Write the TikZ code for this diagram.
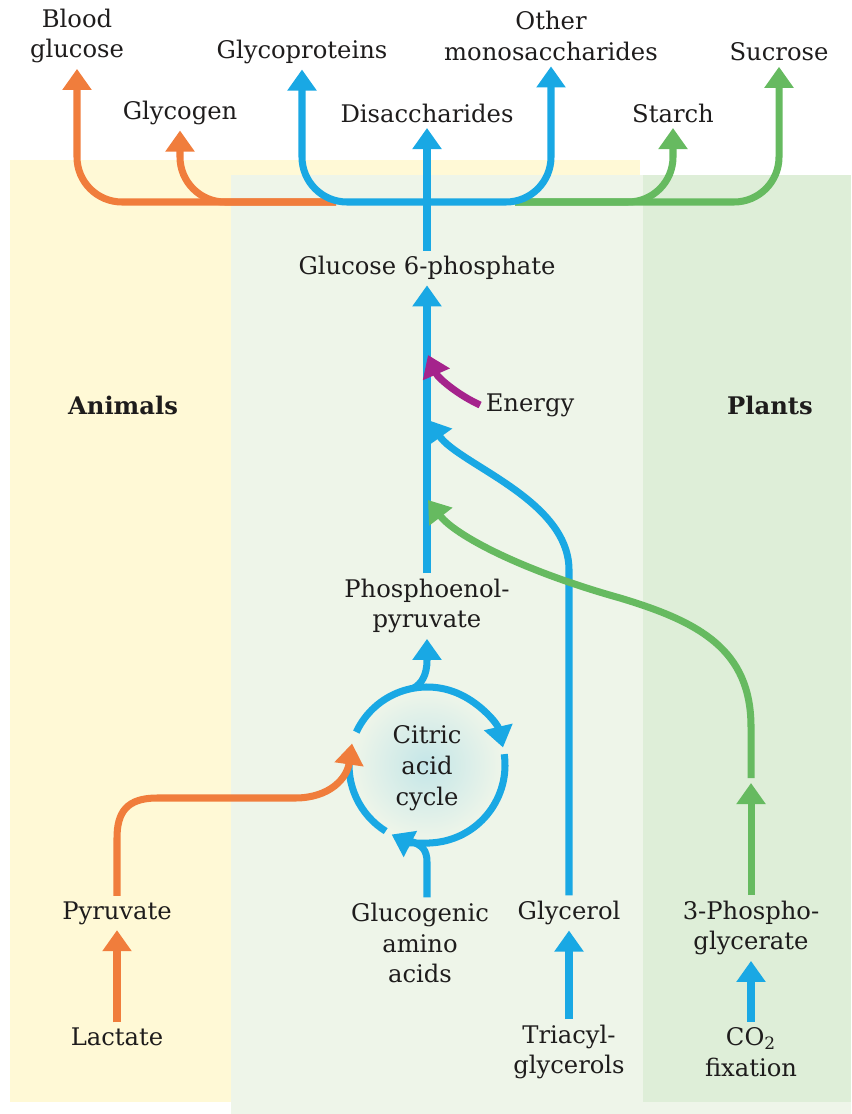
\documentclass[tikz,border=0pt]{standalone}
\usepackage{fontspec}
\setmainfont{DejaVu Serif}
\usepackage{tikz}
\usetikzlibrary{arrows.meta}
\definecolor{glcorange}{RGB}{240,125,60}
\definecolor{glcblue}{RGB}{25,168,228}
\definecolor{glcgreen}{RGB}{102,186,96}
\definecolor{glcmagenta}{RGB}{165,35,140}
\definecolor{animalbg}{RGB}{255,249,214}
\definecolor{sharedbg}{RGB}{238,245,233}
\definecolor{plantbg}{RGB}{222,238,216}
\definecolor{glctext}{RGB}{30,28,28}

\begin{document}
\begin{tikzpicture}[x=0.02cm, y=0.02cm,
    >={Triangle[width=16pt,length=12pt]},
    every node/.style={font=\fontsize{13.8}{17.5}\selectfont, text=glctext, align=center, inner sep=3pt},
    flow/.style={line width=4pt, ->},
    ring/.style={line width=4pt, glcblue}]
  \useasboundingbox (0,0) rectangle (851,-1114);

  \fill[animalbg] (10,-160) rectangle (640,-1102);
  \fill[sharedbg] (231,-175) rectangle (851,-1114);
  \fill[plantbg] (643,-175) rectangle (851,-1102);

  \coordinate (cyc) at (427,-765);
  \shade[inner color=glcblue!20!sharedbg, outer color=sharedbg] (cyc) circle[radius=1.5cm];

  \node (bg) at (77,-36) {Blood\\glucose};
  \node (glyc) at (180,-113) {Glycogen};
  \node (gp) at (302,-52) {Glycoproteins};
  \node (dis) at (427,-113) {Disaccharides};
  \node (om) at (551,-36) {Other\\monosaccharides};
  \node (starch) at (673,-113) {Starch};
  \node (suc) at (779,-52) {Sucrose};
  \node (g6p) at (427,-268) {Glucose 6-phosphate};
  \node (animals) at (123,-405) {\bfseries Animals};
  \node (energy) at (530,-405) {Energy};
  \node (plants) at (770,-405) {\bfseries Plants};
  \node (pep) at (427,-606) {Phosphoenol-\\pyruvate};
  \node (tca) at (427,-768) {Citric\\acid\\cycle};
  \node (pyr) at (117,-913) {Pyruvate};
  \node (gaa) at (420,-943) {Glucogenic\\amino\\acids};
  \node (glr) at (569,-913) {Glycerol};
  \node (pga) at (751,-928) {3-Phospho-\\glycerate};
  \node (lac) at (117,-1037) {Lactate};
  \node (tag) at (569,-1052) {Triacyl-\\glycerols};
  \node (co2) at (751,-1052) {CO\textsubscript{2}\\fixation};

  \coordinate (ojoin) at (336,-202);
  \coordinate (gjoin) at (515,-202);
  \coordinate (etip) at (428,-355);
  \coordinate (gltip) at (428,-420);
  \coordinate (pgtip) at (428,-500);
  \coordinate (gmid) at (751,-783);
  \path (cyc) ++(164:1.56cm) coordinate (oin);
  \path (cyc) ++(100:1.56cm) coordinate (pepout);
  \path (cyc) ++(258:1.56cm) coordinate (aain);

  \draw[flow, glcorange, rounded corners=0.9cm] (ojoin) -| (bg.south);
  \draw[flow, glcorange, rounded corners=0.9cm] (ojoin) -| (glyc.south);
  \draw[flow, glcgreen, rounded corners=0.9cm] (gjoin) -| (starch.south);
  \draw[flow, glcgreen, rounded corners=0.9cm] (gjoin) -| (suc.south);
  \draw[flow, glcblue, <->, rounded corners=0.9cm] (gp.south) |- (g6p.north |- ojoin) -| (om.south);
  \draw[flow, glcblue] (g6p.north) -- (dis.south);

  \draw[flow, glcblue] (pep.north) -- (g6p.south);
  \draw[flow, glcmagenta] (energy.west) .. controls (458,-395) and (438,-378) .. (etip);
  \draw[flow, glcblue] (glr.north) -- (569,-570) .. controls (569,-500) and (460,-465) .. (gltip);
  \draw[flow, glcgreen] (pga.north) -- (gmid);
  \draw[flow, glcgreen] (gmid) ++(0,5) -- (751,-727) .. controls (751,-650) and (700,-622) .. (620,-598)
    .. controls (520,-570) and (455,-535) .. (pgtip);

  \draw[ring, ->] (cyc) ++(155:1.56cm) arc[start angle=155, end angle=13, radius=1.56cm];
  \draw[ring, ->] (cyc) ++(8:1.56cm) arc[start angle=8, end angle=-117, radius=1.56cm];
  \draw[ring] (cyc) ++(-122:1.56cm) arc[start angle=-122, end angle=-188, radius=1.56cm];
  \draw[flow, glcblue] (pepout) .. controls (421,-684) and (427,-676) .. (427,-660) -- (pep.south);
  \draw[ring] (gaa.north -| cyc) -- (427,-862) .. controls (427,-850) and (422,-845) .. (aain);
  \draw[flow, glcorange] (pyr.north) -- (117,-838) .. controls (117,-812) and (127,-798) .. (157,-798)
    -- (295,-798) .. controls (330,-798) and (347,-778) .. (oin);

  \draw[flow, glcorange, line width=5pt] (lac.north) -- (pyr.south);
  \draw[flow, glcblue, line width=5pt] (tag.north) -- (glr.south);
  \draw[flow, glcblue, line width=5pt] (co2.north) -- (pga.south);
\end{tikzpicture}
\end{document}
